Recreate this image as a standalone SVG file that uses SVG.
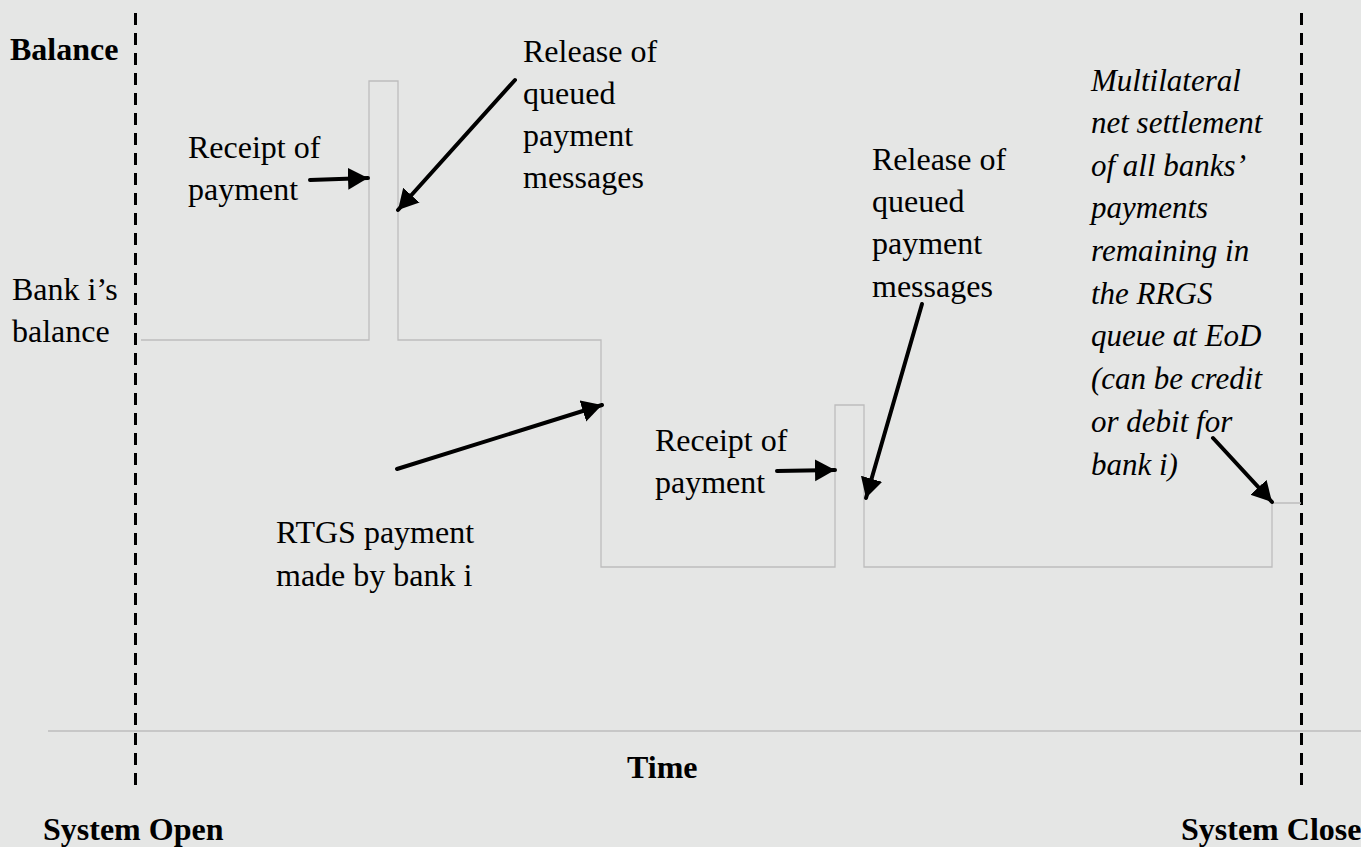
<svg xmlns="http://www.w3.org/2000/svg" width="1361" height="847" viewBox="0 0 1361 847">
<style>
.t{font-family:"Liberation Serif","Times New Roman",serif;font-size:32px;fill:#000}
.b{font-weight:bold}
.i{font-style:italic;font-size:31px}
.dash{stroke:#000;stroke-width:3;stroke-dasharray:12 8;fill:none}
.bal{stroke:#bdbdbd;stroke-width:1.3;fill:none}
.arr{stroke:#000;stroke-width:4;stroke-linecap:round;fill:none;marker-end:url(#ah)}
</style>
<defs>
<marker id="ah" markerUnits="userSpaceOnUse" markerWidth="24" markerHeight="24" refX="20" refY="11" orient="auto">
<path d="M0,0 L20,11 L0,22 Z" fill="#000"/>
</marker>
</defs>
<rect width="1361" height="847" fill="#e5e6e5"/>
<g id="axes">
<line x1="48" y1="731" x2="1361" y2="731" stroke="#bdbdbd" stroke-width="1.3"/>
<line class="dash" x1="135.5" y1="13" x2="135.5" y2="786"/>
<line class="dash" x1="1301.5" y1="13" x2="1301.5" y2="786"/>
</g>
<g id="balance-line">
<path class="bal" d="M141,340 H369 V81 H398 V340 H601 V567 H835 V405 H864 V567 H1272 V503 H1301"/>
</g>
<g id="connectors">
<line class="arr" x1="310" y1="180" x2="368" y2="178"/>
<line class="arr" x1="515" y1="80" x2="398" y2="210"/>
<line class="arr" x1="397" y1="469" x2="602" y2="405"/>
<line class="arr" x1="777" y1="471" x2="835" y2="470"/>
<line class="arr" x1="922" y1="304" x2="866" y2="498"/>
<line class="arr" x1="1213" y1="438" x2="1272" y2="502"/>
</g>
<g id="label-balance"><text class="t b" x="10" y="60">Balance</text></g>
<g id="label-bank-balance">
<text class="t" x="12" y="300">Bank i’s</text>
<text class="t" x="12" y="342">balance</text>
</g>
<g id="label-receipt-1">
<text class="t" x="188" y="158">Receipt of</text>
<text class="t" x="188" y="200">payment</text>
</g>
<g id="label-release-1">
<text class="t" x="523" y="62">Release of</text>
<text class="t" x="523" y="104">queued</text>
<text class="t" x="523" y="146">payment</text>
<text class="t" x="523" y="188">messages</text>
</g>
<g id="label-rtgs">
<text class="t" x="276" y="543">RTGS payment</text>
<text class="t" x="276" y="586">made by bank i</text>
</g>
<g id="label-receipt-2">
<text class="t" x="655" y="451">Receipt of</text>
<text class="t" x="655" y="493">payment</text>
</g>
<g id="label-release-2">
<text class="t" x="872" y="170">Release of</text>
<text class="t" x="872" y="212">queued</text>
<text class="t" x="872" y="254">payment</text>
<text class="t" x="872" y="297">messages</text>
</g>
<g id="label-multilateral">
<text class="t i" x="1091" y="91">Multilateral</text>
<text class="t i" x="1091" y="133">net settlement</text>
<text class="t i" x="1091" y="176">of all banks’</text>
<text class="t i" x="1091" y="218">payments</text>
<text class="t i" x="1091" y="261">remaining in</text>
<text class="t i" x="1091" y="304">the RRGS</text>
<text class="t i" x="1091" y="346">queue at EoD</text>
<text class="t i" x="1091" y="389">(can be credit</text>
<text class="t i" x="1091" y="432">or debit for</text>
<text class="t i" x="1091" y="475">bank i)</text>
</g>
<g id="label-time"><text class="t b" x="627" y="778">Time</text></g>
<g id="label-open"><text class="t b" x="43" y="840">System Open</text></g>
<g id="label-close"><text class="t b" x="1181" y="840">System Close</text></g>
</svg>
